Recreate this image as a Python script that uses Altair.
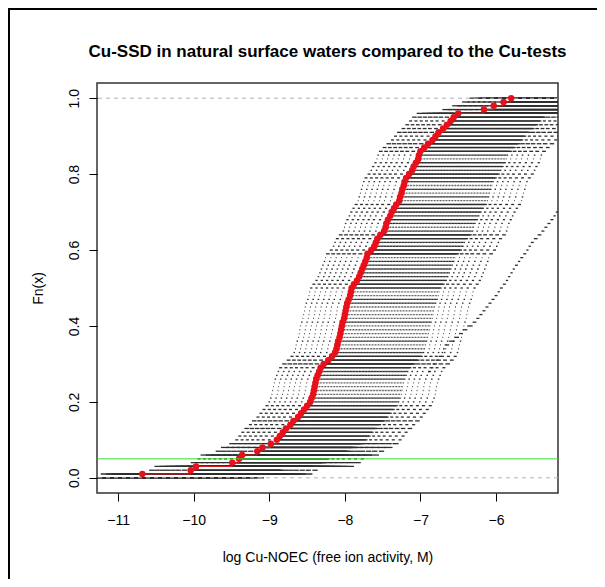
import altair as alt
import pandas as pd

alt.data_transformers.disable_max_rows()

# ---- data ----
# Cu-tests: sorted log Cu-NOEC values (red ECDF), one per step of 1/100
red_x = [
    -10.68, -10.04, -9.97, -9.49, -9.40, -9.36, -9.16, -9.09, -8.98, -8.90,
    -8.86, -8.82, -8.78, -8.72, -8.68, -8.62, -8.58, -8.54, -8.50, -8.46,
    -8.44, -8.42, -8.41, -8.40, -8.39, -8.38, -8.36, -8.34, -8.32, -8.28,
    -8.22, -8.17, -8.13, -8.11, -8.10, -8.09, -8.07, -8.06, -8.05, -8.04,
    -8.03, -8.01, -8.00, -7.99, -7.98, -7.97, -7.95, -7.93, -7.92, -7.91,
    -7.88, -7.84, -7.81, -7.79, -7.77, -7.75, -7.73, -7.71, -7.70, -7.65,
    -7.61, -7.59, -7.57, -7.53, -7.48, -7.46, -7.45, -7.43, -7.40, -7.38,
    -7.35, -7.32, -7.28, -7.27, -7.25, -7.24, -7.22, -7.21, -7.19, -7.15,
    -7.11, -7.09, -7.06, -7.03, -7.02, -7.00, -6.95, -6.90, -6.84, -6.80,
    -6.76, -6.70, -6.65, -6.60, -6.56, -6.50, -6.16, -6.03, -5.90, -5.80,
]

# shift of each natural-water SSD relative to the Cu-tests (log units)
water_shift = [
    -0.55, -0.48, -0.41, -0.34, -0.27, -0.20, -0.12,
    -0.04, -0.02, 0.00, 0.02, 0.04, 0.06, 0.08, 0.10, 0.12, 0.14,
    0.16, 0.18, 0.20, 0.22, 0.24, 0.26, 0.28, 0.30, 0.32, 0.34,
    0.36, 0.38, 0.40, 0.42, 0.44, 0.46, 0.48, 0.50, 0.52, 0.54,
    0.56, 0.58, 0.60, 0.62, 0.64, 0.66, 0.68, 0.70, 0.72, 0.74,
    0.76, 0.78, 0.80, 0.82, 0.84, 0.86, 0.88, 0.90, 0.92, 0.94,
    0.96, 0.98, 1.00, 1.02, 1.04, 1.06, 1.08, 1.10, 1.12, 1.14, 1.16,
    1.22, 1.29, 1.36, 1.44, 1.52, 1.61,
]

# the separate right-hand water, steps 28 .. 72
outlier_first_step = 28
outlier_x = [
    -6.90, -6.86, -6.83, -6.80, -6.76, -6.72, -6.70, -6.68, -6.62, -6.55,
    -6.49, -6.44, -6.38, -6.31, -6.26, -6.22, -6.18, -6.14, -6.10, -6.06,
    -6.02, -5.98, -5.95, -5.91, -5.87, -5.84, -5.81, -5.78, -5.75, -5.71,
    -5.68, -5.64, -5.60, -5.57, -5.54, -5.50, -5.45, -5.40, -5.36, -5.32,
    -5.28, -5.24, -5.21, -5.17, -5.13,
]

x_domain = [-11.28, -5.18]
y_domain = [-0.04, 1.04]
x_ticks = [-11, -10, -9, -8, -7, -6]
y_ticks = [0.0, 0.2, 0.4, 0.6, 0.8, 1.0]
ref_levels = [0.0, 1.0]
green_level = [0.05]

TITLE = "Cu-SSD in natural surface waters compared to the Cu-tests"
XTITLE = "log Cu-NOEC (free ion activity, M)"
YTITLE = "Fn(x)"
FONT = "Liberation Sans"
W, H = 461, 410

# ---- build step segments ----
n = len(red_x)
seg = []
for d in water_shift:
    xs = [v + d for v in red_x]
    seg.append({"x": x_domain[0], "x2": xs[0], "y": 0.0})
    for i in range(n - 1):
        seg.append({"x": xs[i], "x2": xs[i + 1], "y": (i + 1) / n})
    seg.append({"x": xs[-1], "x2": x_domain[1], "y": 1.0})
for j in range(len(outlier_x) - 1):
    seg.append({"x": outlier_x[j], "x2": outlier_x[j + 1],
                "y": (outlier_first_step + j) / n})
seg_df = pd.DataFrame(seg)

red_seg = pd.DataFrame({
    "x": red_x[:-1], "x2": red_x[1:],
    "y": [(i + 1) / n for i in range(n - 1)],
})
red_pts = pd.DataFrame({"x": red_x, "y": [(i + 1) / n for i in range(n)]})

xsc = alt.Scale(domain=x_domain, nice=False, zero=False)
ysc = alt.Scale(domain=y_domain, nice=False, zero=False)

x_axis = alt.Axis(values=x_ticks, format="d", labelPadding=12, labelFlush=False,
                  title=XTITLE, titleY=68, titleBaseline="alphabetic")
y_axis = alt.Axis(values=y_ticks, format=".1f", labelAngle=270, labelAlign="center",
                  labelBaseline="alphabetic", labelPadding=11, labelFlush=False,
                  title=YTITLE, titleX=-55, titleY=H / 2, titleAngle=270,
                  titleAlign="center", titleBaseline="alphabetic")


def X():
    return alt.X("x:Q", scale=xsc, axis=x_axis)


def Y():
    return alt.Y("y:Q", scale=ysc, axis=y_axis)


black = alt.Chart(seg_df).mark_rule(color="#2e2e2e", strokeWidth=1.3, clip=True).encode(
    x=X(), x2="x2:Q", y=Y())

refs = alt.Chart(pd.DataFrame({"y": ref_levels})).mark_rule(
    color="#b3b3b3", strokeWidth=1, strokeDash=[4, 4]
).encode(y=Y())

reds = alt.Chart(red_seg).mark_rule(color="#e31a1c", strokeWidth=1, clip=True).encode(
    x=X(), x2="x2:Q", y=Y())

pts = alt.Chart(red_pts).mark_circle(color="#e8101a", size=42, opacity=1).encode(
    x=X(), y=Y())

green = alt.Chart(pd.DataFrame({"y": green_level})).mark_rule(
    color="#33dd33", strokeWidth=1
).encode(y=Y())

title_mark = alt.Chart(pd.DataFrame({"t": [TITLE]})).mark_text(
    font=FONT, fontSize=17, fontWeight="bold", color="black",
    align="center", baseline="alphabetic"
).encode(text="t:N", x=alt.value(W / 2), y=alt.value(-26))

frame_df = pd.DataFrame({"k": [0]})
frame_left = alt.Chart(frame_df).mark_rule(color="black", strokeWidth=2).encode(
    x=alt.value(-88), y=alt.value(-75), y2=alt.value(500))
frame_top = alt.Chart(frame_df).mark_rule(color="black", strokeWidth=2).encode(
    x=alt.value(-89), x2=alt.value(500), y=alt.value(-74))

chart = alt.layer(black, refs, reds, pts, green, title_mark, frame_left, frame_top).properties(
    width=W, height=H,
    padding={"left": 89, "top": 75, "right": 39, "bottom": 86},
    autosize=alt.AutoSizeParams(type="none"),
).configure_view(stroke="#333333", strokeWidth=1.5).configure_axis(
    labelFont=FONT, labelFontSize=14, labelColor="black",
    titleFont=FONT, titleFontSize=14, titleFontWeight="normal", titleColor="black",
    tickColor="black", tickSize=8, domain=False, grid=False,
)

chart.save("out.html", embed_options={"renderer": "svg", "actions": False})
